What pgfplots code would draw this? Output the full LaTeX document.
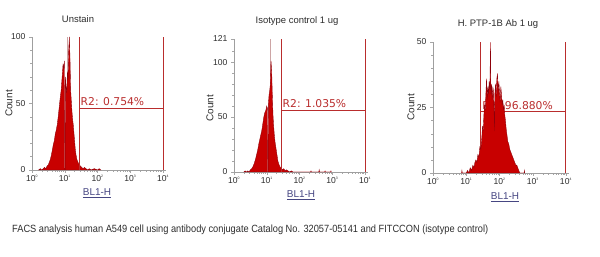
\documentclass[border=0pt]{standalone}
\usepackage{pgfplots}
\pgfplotsset{compat=1.18}
\usepackage{fontspec}
\setmainfont{Liberation Sans}
\newfontfamily\dejavu{DejaVu Sans}
\definecolor{histred}{RGB}{200,0,0}
\definecolor{histdark}{RGB}{140,0,10}
\definecolor{gatecol}{RGB}{185,45,45}
\definecolor{spike}{RGB}{205,165,165}
\definecolor{labblue}{RGB}{70,70,130}
\definecolor{txt}{RGB}{45,45,45}
\tikzset{
  gatel/.style={draw=gatecol, line width=1pt},
  gatetxt/.style={text=gatecol, font=\dejavu\fontsize{10.8}{12}\selectfont, anchor=base west, inner sep=0pt},
}
\pgfplotsset{
  facshist/.style={draw=histdark, fill=histred, line width=0.35pt, sharp plot, mark=none},
  facs/.style={
    scale only axis, clip=false,
    anchor=south west,
    xmin=0, xmax=4.1, ymin=0,
    axis x line*=bottom, axis y line*=left,
    axis line style={draw=gray!75, -},
    tick align=outside,
    major tick length=3bp, minor tick length=1.6bp,
    every tick/.style={draw=gray!70, line width=0.4pt},
    xtick={0,1,2,3,4},
    xticklabels={10\textsuperscript{\fontsize{3.5}{4}\selectfont 0},10\textsuperscript{\fontsize{3.5}{4}\selectfont 1},10\textsuperscript{\fontsize{3.5}{4}\selectfont 2},10\textsuperscript{\fontsize{3.5}{4}\selectfont 3},10\textsuperscript{\fontsize{3.5}{4}\selectfont 4}},
    minor xtick={0.301,0.477,0.602,0.699,0.778,0.845,0.903,0.954,1.301,1.477,1.602,1.699,1.778,1.845,1.903,1.954,2.301,2.477,2.602,2.699,2.778,2.845,2.903,2.954,3.301,3.477,3.602,3.699,3.778,3.845,3.903,3.954},
    ticklabel style={font=\fontsize{8.6}{9}\selectfont, text=txt},
    /pgf/number format/assume math mode=true,
    xticklabel style={yshift=1bp},
  },
}
\begin{document}
\begin{tikzpicture}
\useasboundingbox (0,0) rectangle (600bp,257bp);

% ---------------- Panel 1: Unstain
\begin{axis}[facs, at={(32bp,87bp)}, width=134.3bp, height=133bp, ymax=100,
  ytick={0,50,100}, minor ytick={10,20,30,40,60,70,80,90}]
\draw[draw=spike, line width=0.5pt] (axis cs:1.07,0) -- (axis cs:1.07,100);
\addplot[facshist] table {
x y
0.20 0
0.25 1
0.30 0
0.34 1
0.38 2
0.42 1
0.46 3
0.50 4
0.53 6
0.56 8
0.59 11
0.62 15
0.65 19
0.68 22
0.71 27
0.74 30
0.77 34
0.80 40
0.83 47
0.86 54
0.89 60
0.92 70
0.95 80
0.97 76
0.99 82
1.00 0
1.01 0
1.02 70
1.04 62
1.06 58
1.08 74
1.10 68
1.12 90
1.14 100
1.16 84
1.18 60
1.20 52
1.22 44
1.24 38
1.26 34
1.28 28
1.30 22
1.32 16
1.34 12
1.37 8
1.40 6
1.44 4
1.48 3
1.52 2
1.56 1
1.60 2
1.65 1
1.70 0
1.75 1
1.80 0
1.90 1
2.00 0
2.05 1
2.10 0
} \closedcycle;
\draw[gatel] (axis cs:1.435,0) -- (axis cs:1.435,100);
\draw[gatel] (axis cs:4,0) -- (axis cs:4,100);
\draw[gatel] (axis cs:1.435,46.6) -- (axis cs:4,46.6);
\node[gatetxt] at ([xshift=1.5bp,yshift=2.8bp]axis cs:1.435,46.6) {R2: 0.754\%};
\end{axis}

% ---------------- Panel 2: Isotype control
\begin{axis}[facs, at={(234bp,85bp)}, width=134.3bp, height=133bp, ymax=121,
  ytick={0,50,100,121}, minor ytick={10,20,30,40,60,70,80,90,110}]
\draw[draw=spike, line width=0.5pt] (axis cs:1.12,0) -- (axis cs:1.12,121);
\addplot[facshist] table {
x y
0.30 0
0.34 1
0.38 0
0.42 1
0.46 0
0.50 2
0.54 3
0.58 5
0.62 8
0.66 12
0.70 17
0.73 21
0.76 26
0.79 30
0.82 34
0.85 38
0.88 44
0.91 50
0.94 54
0.97 56
1.00 60
1.02 58
1.03 0
1.04 0
1.05 62
1.07 70
1.09 74
1.11 80
1.13 101
1.15 92
1.17 70
1.19 52
1.21 42
1.23 34
1.25 28
1.27 24
1.29 20
1.31 16
1.34 10
1.37 7
1.40 5
1.44 3
1.48 2
1.52 3
1.56 1
1.60 2
1.65 1
1.70 0
1.75 1
1.80 0
2.34 0
2.35 1
2.36 0
2.59 0
2.60 2
2.61 0
2.77 0
2.78 1
2.79 0
2.95 0
2.96 1
2.97 0
} \closedcycle;
\draw[gatel] (axis cs:1.435,0) -- (axis cs:1.435,121);
\draw[gatel] (axis cs:4,0) -- (axis cs:4,121);
\draw[gatel] (axis cs:1.435,56.4) -- (axis cs:4,56.4);
\node[gatetxt] at ([xshift=1.5bp,yshift=2.6bp]axis cs:1.435,56.4) {R2: 1.035\%};
\end{axis}

% ---------------- Panel 3: H. PTP-1B Ab
\begin{axis}[facs, at={(433bp,84bp)}, width=136.3bp, height=131bp, ymax=50,
  ytick={0,25,50}, minor ytick={5,10,15,20,30,35,40,45}]
\draw[gatel] (axis cs:1.435,0) -- (axis cs:1.435,50);
\draw[gatel] (axis cs:3.98,0) -- (axis cs:3.98,50);
\draw[gatel] (axis cs:1.435,23.3) -- (axis cs:3.98,23.3);
\node[gatetxt] at ([xshift=1.5bp,yshift=2.6bp]axis cs:1.435,23.3) {R2: 96.880\%};
\addplot[facshist] table {
x y
0.86 0
0.87 1
0.88 0
1.00 0
1.04 1
1.08 0
1.12 2
1.16 1
1.20 3
1.23 2
1.26 4
1.29 5
1.32 4
1.35 7
1.38 6
1.41 10
1.44 9
1.47 14
1.49 18
1.51 16
1.53 22
1.55 26
1.57 24
1.59 30
1.61 36
1.63 28
1.65 33
1.67 30
1.69 35
1.71 32
1.73 50
1.74 30
1.76 34
1.78 28
1.80 33
1.82 31
1.84 22
1.85 16
1.86 30
1.88 34
1.90 29
1.92 36
1.94 38
1.96 30
1.98 35
2.00 31
2.02 27
2.04 33
2.06 30
2.08 26
2.10 28
2.12 24
2.14 26
2.16 22
2.18 20
2.20 17
2.22 15
2.25 12
2.28 11
2.31 9
2.34 8
2.37 7
2.40 6
2.43 5
2.46 4
2.49 3
2.52 3
2.55 2
2.58 1
2.61 0
2.74 0
2.75 1
2.76 0
} \closedcycle;
\end{axis}

% ---------------- texts
\begin{scope}[every node/.style={text=txt, font=\fontsize{9.5}{11}\selectfont, anchor=base}]
\node at (78bp,234bp) {Unstain};
\node at (297bp,233bp) {Isotype control 1 ug};
\node at (498bp,230bp) {H. PTP-1B Ab 1 ug};
\end{scope}
\begin{scope}[every node/.style={text=txt, font=\fontsize{10}{11}\selectfont, rotate=90}]
\node at (9bp,153.5bp) {Count};
\node at (210bp,149bp) {Count};
\node at (411bp,150bp) {Count};
\end{scope}
\begin{scope}[every node/.style={text=labblue, font=\fontsize{10}{11}\selectfont, anchor=base}]
\node at (97bp,61bp) {\underline{BL1-H}};
\node at (301bp,59bp) {\underline{BL1-H}};
\node at (505bp,57bp) {\underline{BL1-H}};
\end{scope}
\node[anchor=base west, inner sep=0pt, text=txt] at (12bp,25bp) {\resizebox{476bp}{\height}{\fontsize{10.5}{12}\selectfont FACS analysis human A549 cell using antibody conjugate Catalog No. 32057-05141 and FITCCON (isotype control)}};
\end{tikzpicture}
\end{document}
